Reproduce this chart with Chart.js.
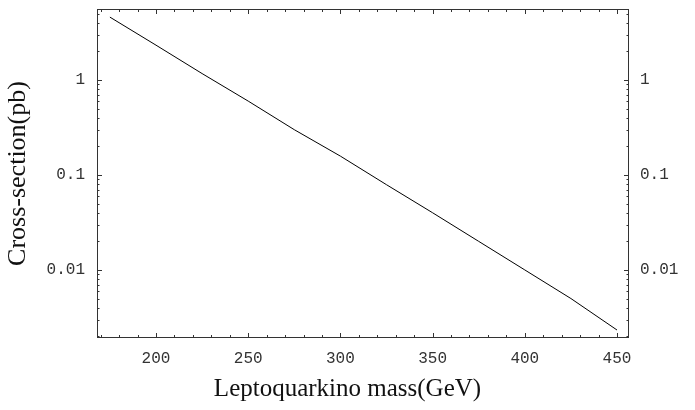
<!DOCTYPE html>
<html>
<head>
<meta charset="utf-8">
<script src="https://cdn.jsdelivr.net/npm/chart.js@4.4.0/dist/chart.umd.min.js"></script>
<style>
html,body{margin:0;padding:0;background:#fff;}
#wrap{width:695px;height:410px;}
</style>
</head>
<body>
<div id="wrap"><canvas id="lineGraph"></canvas></div>
<script>
// values (log scale)
var masses = [175, 200, 225, 250, 275, 300, 325, 350, 375, 400, 425, 450];
var crossSections = [4.6, 2.33, 1.17, 0.60, 0.30, 0.158, 0.079, 0.040, 0.020, 0.0100, 0.0050, 0.00233];
var xTickValues = [200, 250, 300, 350, 400, 450];
var yTickValues = [0.01, 0.1, 1];
var xRange = [168, 456.5];
var yRange = [0.00192, 5.6];

var tickFont = {family: 'Liberation Mono', size: 16};
var titleFont = {family: 'Liberation Serif', size: 26};

// frame plus inward Mathematica-style tick marks
var frameTicks = {
	id: 'frameTicks',
	afterDatasetsDraw: function(chart) {
		var ctx = chart.ctx, a = chart.chartArea;
		var xs = chart.scales.x, ys = chart.scales.y;
		ctx.save();
		ctx.strokeStyle = '#333';
		ctx.lineWidth = 1;
		ctx.strokeRect(a.left + 0.5, a.top + 0.5, a.right - a.left - 1, a.bottom - a.top - 1);
		ctx.beginPath();
		for (var v = 170; v <= xRange[1]; v += 10) {
			var px = Math.round(xs.getPixelForValue(v)) + 0.5;
			var len = (v % 50 === 0) ? 5 : 3;
			ctx.moveTo(px, a.bottom); ctx.lineTo(px, a.bottom - len);
			ctx.moveTo(px, a.top); ctx.lineTo(px, a.top + len);
		}
		for (var e = -3; e <= 0; e++) {
			for (var m = 1; m <= 9; m++) {
				var val = m * Math.pow(10, e);
				if (val < yRange[0] || val > yRange[1]) continue;
				var py = Math.round(ys.getPixelForValue(val)) + 0.5;
				var l = (m === 1) ? 5 : 2.5;
				ctx.moveTo(a.left, py); ctx.lineTo(a.left + l, py);
				ctx.moveTo(a.right, py); ctx.lineTo(a.right - l, py);
			}
		}
		ctx.stroke();
		ctx.restore();
	}
};

function yAxis(pos, w) {
	return {
		type: 'logarithmic',
		position: pos,
		min: yRange[0],
		max: yRange[1],
		grid: {display: false, drawTicks: false},
		border: {display: false},
		afterBuildTicks: function(scale) {
			scale.ticks = yTickValues.map(function(v) { return {value: v}; });
		},
		afterFit: function(scale) {
			scale.width = w;
			scale.paddingTop = 0;
			scale.paddingBottom = 0;
		},
		ticks: {
			autoSkip: false,
			padding: 12,
			color: '#333',
			font: tickFont,
			callback: function(v) { return String(v); }
		}
	};
}

var left = yAxis('left', 97);
left.title = {display: true, text: 'Cross-section(pb)', color: '#111', font: titleFont, padding: {top: 3, bottom: 0}};
var right = yAxis('right', 66);
right.ticks.padding = 11;

var ctx = document.getElementById('lineGraph');
var lineGraph = new Chart(ctx, {
	type: 'line',
	data: {
		datasets: [{
			data: masses.map(function(m, i) { return {x: m, y: crossSections[i]}; }),
			borderColor: '#000',
			borderWidth: 1,
			pointRadius: 0,
			tension: 0,
			fill: false
		}]
	},
	options: {
		responsive: true,
		maintainAspectRatio: false,
		animation: false,
		layout: {padding: {top: 9, left: 0, right: 0, bottom: 0}},
		plugins: {
			legend: {display: false},
			tooltip: {enabled: false},
			title: {
				display: true,
				position: 'bottom',
				text: 'Leptoquarkino mass(GeV)',
				color: '#111',
				font: {family: 'Liberation Serif', size: 25, weight: 'normal'},
				padding: {top: 0, bottom: 6}
			}
		},
		scales: {
			x: {
				type: 'linear',
				min: xRange[0],
				max: xRange[1],
				grid: {display: false, drawTicks: false},
				border: {display: false},
				afterBuildTicks: function(scale) {
					scale.ticks = xTickValues.map(function(v) { return {value: v}; });
				},
				afterFit: function(scale) {
					scale.height = 36;
					scale.paddingLeft = 0;
					scale.paddingRight = 0;
				},
				ticks: {autoSkip: false, maxRotation: 0, padding: 11, color: '#333', font: tickFont}
			},
			y: left,
			y2: right
		}
	},
	plugins: [frameTicks]
});
</script>
</body>
</html>
